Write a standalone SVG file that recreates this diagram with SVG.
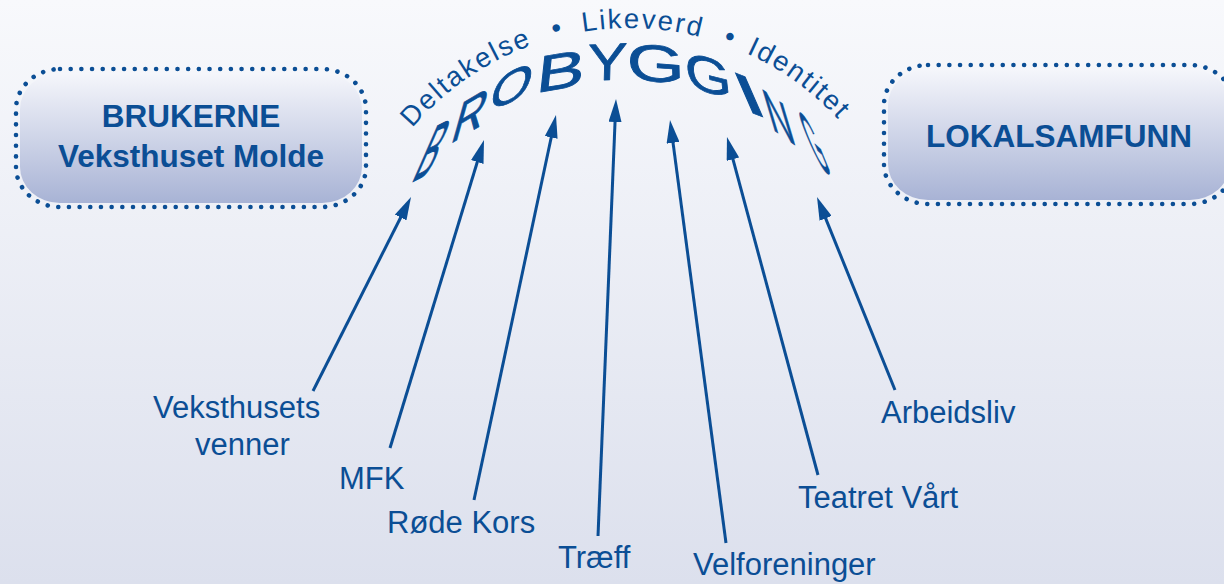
<svg xmlns="http://www.w3.org/2000/svg" width="1224" height="584" viewBox="0 0 1224 584">
  <defs>
    <linearGradient id="bg" x1="0" y1="0" x2="0" y2="1">
      <stop offset="0" stop-color="#f8f9fc"/>
      <stop offset="1" stop-color="#dce0ed"/>
    </linearGradient>
    <linearGradient id="boxfill" x1="0" y1="0" x2="0" y2="1">
      <stop offset="0" stop-color="#f5f6fb"/>
      <stop offset="1" stop-color="#a8b3d5"/>
    </linearGradient>
    <marker id="arrow" viewBox="0 0 23 13" refX="11" refY="6.5" markerWidth="23" markerHeight="13" markerUnits="userSpaceOnUse" orient="auto">
      <path d="M0,0 L23,6.5 L0,13 z" fill="#0b4e95"/>
    </marker>
    <path id="arc" d="M382.2,170.5 A285,285 0 0 1 875.8,170.5"/>
    <style>
      .t { font-family: "Liberation Sans", Arial, Helvetica, sans-serif; fill: #0b4e95; }
      .bold { font-weight: bold; font-size: 31.5px; }
      .lbl { font-size: 31px; }
      .arc { font-size: 27.5px; letter-spacing: 2px; }
      .big { font-size: 100px; stroke: #0b4e95; stroke-width: 1.5; stroke-linejoin: round; }
      .dots { fill: none; stroke: #0b4e95; stroke-width: 4.6; stroke-linecap: round; stroke-dasharray: 0.01 10.67; }
      .fillbox { fill: url(#boxfill); }
      .conn { stroke: #0b4e95; stroke-width: 3; fill: none; marker-end: url(#arrow); }
    </style>
  </defs>

  <rect x="0" y="0" width="1224" height="584" fill="url(#bg)"/>

  <g id="brukerne">
    <rect class="fillbox" x="20" y="73" width="342" height="130" rx="40" ry="36"/>
    <rect class="dots" x="16" y="69" width="350" height="138" rx="44" ry="40"/>
    <text class="t bold" x="191" y="127" text-anchor="middle">BRUKERNE</text>
    <text class="t bold" x="191" y="167" text-anchor="middle">Veksthuset Molde</text>
  </g>

  <g id="lokalsamfunn">
    <rect class="fillbox" x="888" y="69" width="342" height="131" rx="40" ry="36"/>
    <rect class="dots" x="884" y="65" width="350" height="139" rx="44" ry="40"/>
    <text class="t bold" x="1059" y="147" text-anchor="middle">LOKALSAMFUNN</text>
  </g>

  <g id="values">
    <text class="t arc"><textPath href="#arc" startOffset="52">Deltakelse</textPath></text>
    <text class="t arc" text-anchor="middle"><textPath href="#arc" startOffset="228">•</textPath></text>
    <text class="t arc"><textPath href="#arc" startOffset="252">Likeverd</textPath></text>
    <text class="t arc" text-anchor="middle"><textPath href="#arc" startOffset="399">•</textPath></text>
    <text class="t arc"><textPath href="#arc" startOffset="419">Identitet</textPath></text>
  </g>

  <g id="brobygging">
    <text class="t big" text-anchor="middle" transform="matrix(0.296 -0.148 -0.357 0.814 420 178)">B</text>
    <text class="t big" text-anchor="middle" transform="matrix(0.442 -0.267 -0.164 0.586 465 135)">R</text>
    <text class="t big" text-anchor="middle" transform="matrix(0.529 -0.221 -0.129 0.5 507.5 103.5)">O</text>
    <text class="t big" text-anchor="middle" transform="matrix(0.722 -0.120 -0.057 0.521 559 89)">B</text>
    <text class="t big" text-anchor="middle" transform="matrix(0.591 -0.023 -0.014 0.521 607 80)">Y</text>
    <text class="t big" text-anchor="middle" transform="matrix(0.742 0.053 0.014 0.521 656 81.5)">G</text>
    <text class="t big" text-anchor="middle" transform="matrix(0.591 0.152 0.057 0.514 710 93)">G</text>
    <text class="t big" text-anchor="middle" transform="matrix(1.0 0.4 0.257 0.586 758 115)">I</text>
    <text class="t big" text-anchor="middle" transform="matrix(0.357 0.25 0.179 0.6 785 138)">N</text>
    <text class="t big" text-anchor="middle" transform="matrix(0.212 0.197 0.343 0.829 826 172)">G</text>
  </g>

  <g id="connectors">
    <line class="conn" x1="313" y1="391" x2="405.6" y2="207.7"/>
    <line class="conn" x1="390" y1="448" x2="480.5" y2="151.5"/>
    <line class="conn" x1="474" y1="500" x2="553.5" y2="126.7"/>
    <line class="conn" x1="598" y1="536" x2="615.5" y2="111"/>
    <line class="conn" x1="726" y1="543" x2="671.6" y2="131.9"/>
    <line class="conn" x1="818" y1="475" x2="730.1" y2="148.6"/>
    <line class="conn" x1="895" y1="390" x2="821.5" y2="208.1"/>
  </g>

  <g id="veksthusets-venner">
    <text class="t lbl" x="153" y="418">Veksthusets</text>
    <text class="t lbl" x="195" y="455">venner</text>
  </g>
  <g id="mfk"><text class="t lbl" x="339" y="489">MFK</text></g>
  <g id="rode-kors"><text class="t lbl" x="387" y="533">Røde Kors</text></g>
  <g id="traeff"><text class="t lbl" x="558" y="568">Træff</text></g>
  <g id="velforeninger"><text class="t lbl" x="693" y="575">Velforeninger</text></g>
  <g id="teatret-vaart"><text class="t lbl" x="798" y="508">Teatret Vårt</text></g>
  <g id="arbeidsliv"><text class="t lbl" x="881" y="423">Arbeidsliv</text></g>
</svg>
